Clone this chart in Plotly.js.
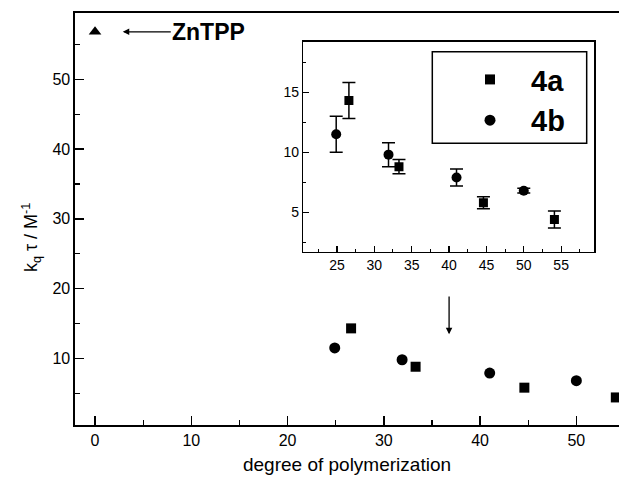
<!DOCTYPE html>
<html>
<head>
<meta charset="utf-8">
<script src="https://cdn.plot.ly/plotly-3.0.1.min.js"></script>
<style>html,body{margin:0;padding:0;background:#fff;}#chart{width:619px;height:483px;}</style>
</head>
<body>
<div id="chart"></div>
<script>
// ---- data ----
const znX = [0];
const znY = [56.8];

const x4a = [26.6, 33.3, 44.6, 54.1];
const y4a = [14.3, 8.8, 5.8, 4.4];
const e4a = [1.5, 0.6, 0.5, 0.7];

const x4b = [24.9, 31.9, 41.0, 50.0];
const y4b = [11.5, 9.8, 7.9, 6.8];
const e4b = [1.5, 1.0, 0.7, 0.2];

const FONT = "Liberation Sans, Arial, Helvetica, sans-serif";

const traces = [
  {x: znX, y: znY, type: 'scatter', mode: 'markers', showlegend: false,
   marker: {symbol: 'triangle-up', size: 11, color: 'black'}},
  {x: x4a, y: y4a, type: 'scatter', mode: 'markers', name: '4a', legendgroup: 'a',
   marker: {symbol: 'square', size: 10, color: 'black'}},
  {x: x4b, y: y4b, type: 'scatter', mode: 'markers', name: '4b', legendgroup: 'b',
   marker: {symbol: 'circle', size: 11, color: 'black'}},
  {x: x4a, y: y4a, xaxis: 'x2', yaxis: 'y2', type: 'scatter', mode: 'markers', showlegend: false,
   marker: {symbol: 'square', size: 9, color: 'black'},
   error_y: {type: 'data', array: e4a, visible: true, color: 'black', thickness: 1.5, width: 6.5}},
  {x: x4b, y: y4b, xaxis: 'x2', yaxis: 'y2', type: 'scatter', mode: 'markers', showlegend: false,
   marker: {symbol: 'circle', size: 10, color: 'black'},
   error_y: {type: 'data', array: e4b, visible: true, color: 'black', thickness: 1.5, width: 6.5}}
];

const layout = {
  width: 619, height: 483,
  margin: {l: 75, r: 0, t: 13, b: 58},
  paper_bgcolor: 'white', plot_bgcolor: 'white',
  font: {family: FONT, color: 'black', size: 16},
  showlegend: true,
  legend: {x: 0.6875, y: 0.9003, xanchor: 'left', yanchor: 'top',
           bgcolor: 'rgba(0,0,0,0)', borderwidth: 0, itemwidth: 72,
           tracegroupgap: 0,
           font: {family: FONT, size: 29, color: 'black', weight: 'bold'}},
  xaxis: {range: [-2.08, 54.43], showgrid: false, zeroline: false,
          showline: true, linecolor: 'black', linewidth: 1.6, mirror: true,
          ticks: 'inside', ticklen: 9, tickwidth: 1.5, tickcolor: 'black',
          tick0: 0, dtick: 10,
          minor: {dtick: 5, ticks: 'inside', ticklen: 5, tickwidth: 1.2, tickcolor: 'black'},
          tickfont: {size: 16},
          title: {text: 'degree of polymerization', font: {size: 19}, standoff: 10}},
  yaxis: {range: [0.45, 59.5], showgrid: false, zeroline: false,
          showline: true, linecolor: 'black', linewidth: 1.6, mirror: false,
          ticks: 'inside', ticklen: 9, tickwidth: 1.5, tickcolor: 'black',
          tick0: 0, dtick: 10,
          minor: {dtick: 5, ticks: 'inside', ticklen: 5, tickwidth: 1.2, tickcolor: 'black'},
          tickfont: {size: 16}},
  xaxis2: {domain: [0.4197, 0.9541], anchor: 'y2', range: [20.5, 59.4],
           showgrid: false, zeroline: false,
           showline: true, linecolor: 'black', linewidth: 1.5, mirror: true,
           ticks: 'inside', ticklen: 6, tickwidth: 1.2, tickcolor: 'black',
           tick0: 0, dtick: 5,
           minor: {dtick: 2.5, ticks: 'inside', ticklen: 3, tickwidth: 1, tickcolor: 'black'},
           tickfont: {size: 14}},
  yaxis2: {domain: [0.4206, 0.9303], anchor: 'x2', range: [1.72, 19.2],
           showgrid: false, zeroline: false,
           showline: true, linecolor: 'black', linewidth: 1.5, mirror: true,
           ticks: 'inside', ticklen: 6, tickwidth: 1.2, tickcolor: 'black',
           tick0: 0, dtick: 5,
           minor: {dtick: 2.5, ticks: 'inside', ticklen: 3, tickwidth: 1, tickcolor: 'black'},
           tickfont: {size: 14}},
  shapes: [
    {type: 'rect', xref: 'paper', yref: 'paper', x0: 0.6568, x1: 0.9406, y0: 0.6837, y1: 0.9061,
     line: {color: 'black', width: 1.5}, fillcolor: 'white', layer: 'above'}
  ],
  annotations: [
    {xref: 'x', yref: 'y', x: 2.88, y: 56.8, axref: 'pixel', ayref: 'pixel', ax: 86, ay: 0,
     text: '<b>ZnTPP</b>', font: {size: 23, family: FONT}, showarrow: true,
     arrowhead: 2, arrowsize: 1, arrowwidth: 1.3, arrowcolor: 'black', standoff: 0},
    {xref: 'x', yref: 'y', x: 36.78, y: 13.44, axref: 'x', ayref: 'y', ax: 36.78, ay: 19.07,
     text: '', showarrow: true, arrowhead: 2, arrowsize: 1, arrowwidth: 1.3, arrowcolor: 'black'},
    {xref: 'paper', yref: 'paper', x: -0.08, y: 0.455, xanchor: 'center', yanchor: 'middle',
     textangle: -90, showarrow: false,
     text: 'k<sub>q</sub> τ / M<sup>-1</sup>', font: {size: 18, family: FONT}}
  ]
};

Plotly.newPlot('chart', traces, layout, {displayModeBar: false, staticPlot: true});
</script>
</body>
</html>
